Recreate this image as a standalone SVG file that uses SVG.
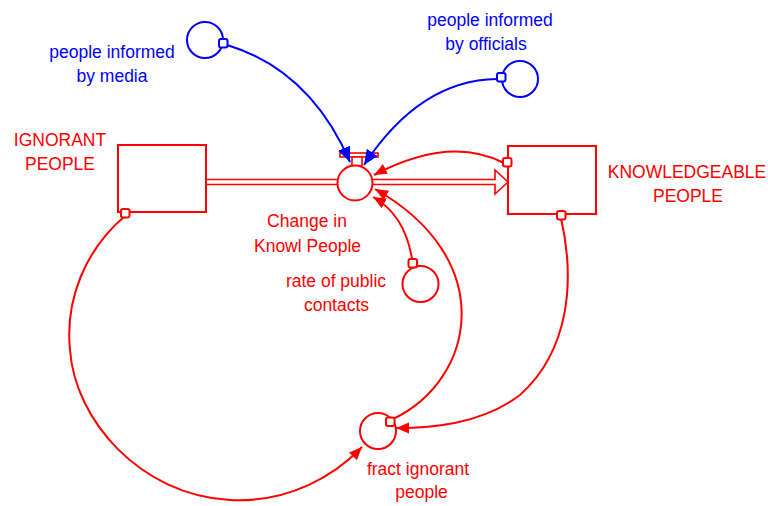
<svg xmlns="http://www.w3.org/2000/svg" width="768" height="506" viewBox="0 0 768 506">
  <style>
    .red { stroke: #ff0000; }
    .blue { stroke: #0000ff; }
    .stock { fill: #ffffff; stroke: #ff0000; stroke-width: 2; }
    .aux { fill: #ffffff; stroke-width: 2; }
    .link { fill: none; stroke-width: 2; }
    .pipe { fill: none; stroke: #ff0000; stroke-width: 1.6; }
    .tab { fill: #ffffff; stroke-width: 2; }
    text { font-family: "Liberation Sans", Arial, sans-serif; font-size: 17.5px; text-anchor: middle; }
    .tr { fill: #ff0000; }
    .tb { fill: #0000ff; }
  </style>
  <defs>
    <marker id="arrRed" markerUnits="userSpaceOnUse" markerWidth="14" markerHeight="12" refX="13" refY="6" orient="auto">
      <path d="M0,0.5 L13,6 L0,11.5 z" fill="#ff0000"/>
    </marker>
    <marker id="arrBlue" markerUnits="userSpaceOnUse" markerWidth="16" markerHeight="14" refX="15" refY="7" orient="auto">
      <path d="M0,0.5 L15,7 L0,13.5 z" fill="#0000ff"/>
    </marker>
  </defs>

  <rect width="768" height="506" fill="#ffffff"/>

  <!-- flow valve (drawn under the links that point into it) -->
  <g id="change-in-knowl-people">
    <rect x="340" y="153" width="38" height="4" fill="#ffffff" stroke="#ff0000" stroke-width="1.6"/>
    <rect x="352" y="157" width="10" height="9" fill="#ffffff" stroke="#ff0000" stroke-width="1.6"/>
    <path class="pipe" d="M206,179.5 H337 M206,184.5 H337"/>
    <path class="pipe" d="M373,179.5 H495 V170 L508,182 L495,194 V184.5 H373"/>
    <circle class="aux red" cx="355" cy="183" r="17.5"/>
    <text class="tr" x="307" y="227.3">Change in</text>
    <text class="tr" x="307.5" y="251.7">Knowl People</text>
  </g>

  <!-- information links -->
  <g id="connectors">
    <path class="link blue" d="M227,45 Q310,70 350,162" marker-end="url(#arrBlue)"/>
    <path class="link blue" d="M497,79 Q420,80 364,165" marker-end="url(#arrBlue)"/>
    <path class="link red" d="M504,163 Q450,135 374,175" marker-end="url(#arrRed)"/>
    <path class="link red" d="M393,419 C475,380 500,260 375,189" marker-end="url(#arrRed)"/>
    <path class="link red" d="M412,259 Q405,215 373,197" marker-end="url(#arrRed)"/>
    <path class="link red" d="M125,216 C85,250 65,300 70,350 C75,420 140,495 230,500 C290,503 335,475 362,447" marker-end="url(#arrRed)"/>
    <path class="link red" d="M561,218 C575,280 570,350 520,395 C480,425 430,428 396,428" marker-end="url(#arrRed)"/>
  </g>

  <!-- stocks -->
  <g id="ignorant-people">
    <rect class="stock" x="118" y="145" width="88" height="67"/>
    <rect class="tab red" x="121" y="209" width="8.5" height="8.5" rx="2"/>
    <text class="tr" x="60" y="146">IGNORANT</text>
    <text class="tr" x="60" y="169.5">PEOPLE</text>
  </g>

  <g id="knowledgeable-people">
    <rect class="stock" x="508" y="146" width="88" height="68"/>
    <rect class="tab red" x="503" y="158" width="8.5" height="8.5" rx="2"/>
    <rect class="tab red" x="557" y="211" width="8.5" height="8.5" rx="2"/>
    <text class="tr" x="687" y="177.5">KNOWLEDGEABLE</text>
    <text class="tr" x="688" y="201.5">PEOPLE</text>
  </g>

  <!-- auxiliaries -->
  <g id="people-informed-by-media">
    <circle class="aux blue" cx="205" cy="40" r="18"/>
    <rect class="tab blue" x="219" y="39" width="8.5" height="8.5" rx="2"/>
    <text class="tb" x="112" y="57.7">people informed</text>
    <text class="tb" x="112" y="81.7">by media</text>
  </g>

  <g id="people-informed-by-officials">
    <circle class="aux blue" cx="520" cy="79" r="18"/>
    <rect class="tab blue" x="497" y="73" width="8.5" height="8.5" rx="2"/>
    <text class="tb" x="490" y="25.5">people informed</text>
    <text class="tb" x="486" y="49.5">by officials</text>
  </g>

  <g id="rate-of-public-contacts">
    <circle class="aux red" cx="420.5" cy="284" r="18"/>
    <rect class="tab red" x="408.5" y="259" width="8.5" height="8.5" rx="2"/>
    <text class="tr" x="336" y="287.3">rate of public</text>
    <text class="tr" x="336.5" y="310.7">contacts</text>
  </g>

  <g id="fract-ignorant-people">
    <circle class="aux red" cx="378" cy="431" r="18"/>
    <rect class="tab red" x="386" y="417.5" width="8.5" height="8.5" rx="2"/>
    <text class="tr" x="418" y="475">fract ignorant</text>
    <text class="tr" x="421.5" y="498.3">people</text>
  </g>
</svg>
